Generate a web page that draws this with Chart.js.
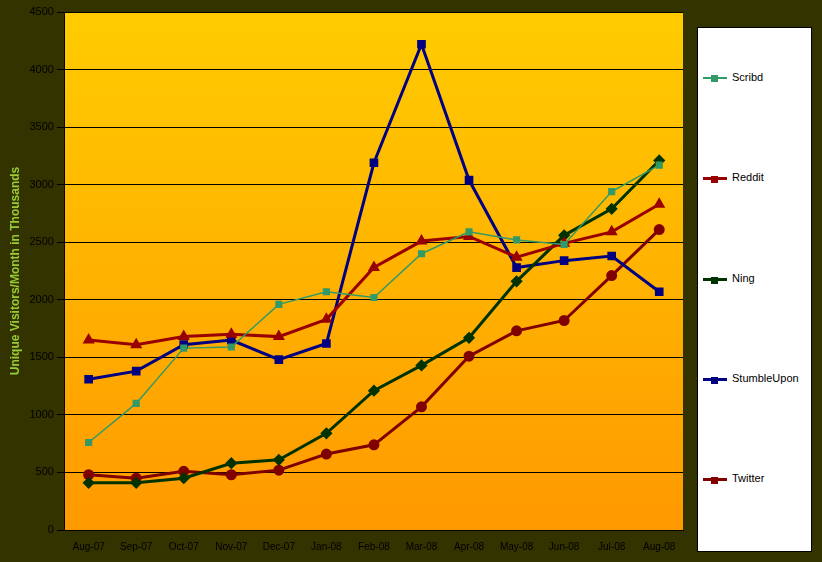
<!DOCTYPE html>
<html><head>
<script src="https://cdn.jsdelivr.net/npm/chart.js@4"></script>
<style>
body{margin:0;background:#333300;width:822px;height:562px;overflow:hidden;font-family:"Liberation Sans",Arial,sans-serif}
#grafico{position:absolute;left:0;top:0}
#legend{position:absolute;left:697px;top:27px;width:115px;height:525px;background:#fff;border:1px solid #000;box-sizing:border-box}
.item{position:absolute;left:5px;font-size:11px;color:#000;height:14px;line-height:14px}
.item span{display:inline-block;width:24px;height:0;vertical-align:middle;margin-right:5px;position:relative}
.item i{position:absolute;left:8px;top:-4px;width:7px;height:7px}
</style>
</head><body>
<canvas id="grafico" width="690" height="562" style="width:690px;height:562px"></canvas>
<div id="legend"></div>
<script>
// datos
const meses = ['Aug-07','Sep-07','Oct-07','Nov-07','Dec-07','Jan-08','Feb-08','Mar-08','Apr-08','May-08','Jun-08','Jul-08','Aug-08'];
const scribd = [760,1100,1580,1590,1960,2070,2020,2400,2590,2520,2480,2940,3170];
const reddit = [1650,1610,1680,1700,1680,1830,2280,2510,2550,2370,2490,2590,2830];
const ning = [410,410,450,580,610,840,1210,1430,1670,2160,2560,2790,3210];
const stumble = [1310,1380,1610,1650,1480,1620,3190,4220,3040,2280,2340,2380,2070];
const twitter = [480,450,510,480,520,660,740,1070,1510,1730,1820,2210,2610];

const series = [
  {label:'Scribd', data:scribd, color:'#339966', style:'rect', width:1.5},
  {label:'Reddit', data:reddit, color:'#990000', style:'triangle', width:3},
  {label:'Ning', data:ning, color:'#003300', style:'rectRot', width:3},
  {label:'StumbleUpon', data:stumble, color:'#000080', style:'rect', width:3},
  {label:'Twitter', data:twitter, color:'#800000', style:'circle', width:3}
];

const fondo = {
  id:'fondo',
  beforeDraw(chart){
    const {ctx, chartArea:a} = chart;
    const g = ctx.createLinearGradient(0,a.top,0,a.bottom);
    g.addColorStop(0,'#FFCC00');
    g.addColorStop(1,'#FF9900');
    ctx.save();
    ctx.fillStyle = g;
    ctx.fillRect(a.left,a.top,a.right-a.left,a.bottom-a.top);
    ctx.restore();
  }
};

var ctx = document.getElementById('grafico').getContext('2d');
new Chart(ctx, {
  type:'line',
  data:{
    labels:meses,
    datasets:series.map(s => ({
      label:s.label, data:s.data, borderColor:s.color, backgroundColor:s.color,
      borderWidth:s.width, pointStyle:s.style, pointRadius:4, tension:0
    }))
  },
  options:{
    responsive:false, animation:false, devicePixelRatio:1,
    layout:{padding:{top:12,right:6,bottom:6,left:4}},
    plugins:{legend:{display:false}, tooltip:{enabled:false}},
    scales:{
      x:{offset:true, grid:{display:false}, border:{color:'#000'},
         ticks:{color:'#000', font:{size:10, family:'Liberation Sans'}, maxRotation:0, autoSkip:false}},
      y:{min:0, max:4500, grid:{color:'#000'}, border:{color:'#000'},
         ticks:{stepSize:500, color:'#000', font:{size:11, family:'Liberation Sans'}, callback:v => String(v)},
         title:{display:true, text:'Unique Visitors/Month in Thousands', color:'#99CC33',
                font:{size:12, weight:'bold', family:'Liberation Sans'}}}
    }
  },
  plugins:[fondo]
});

// leyenda
const tops = [42,142,243,343,443];
series.forEach((s,i) => {
  const d = document.createElement('div');
  d.className = 'item';
  d.style.top = tops[i]+'px';
  d.innerHTML = `<span style="border-top:${s.width>2?3:2}px solid ${s.color}"><i style="background:${s.color}"></i></span>${s.label}`;
  document.getElementById('legend').appendChild(d);
});
</script>
</body></html>
